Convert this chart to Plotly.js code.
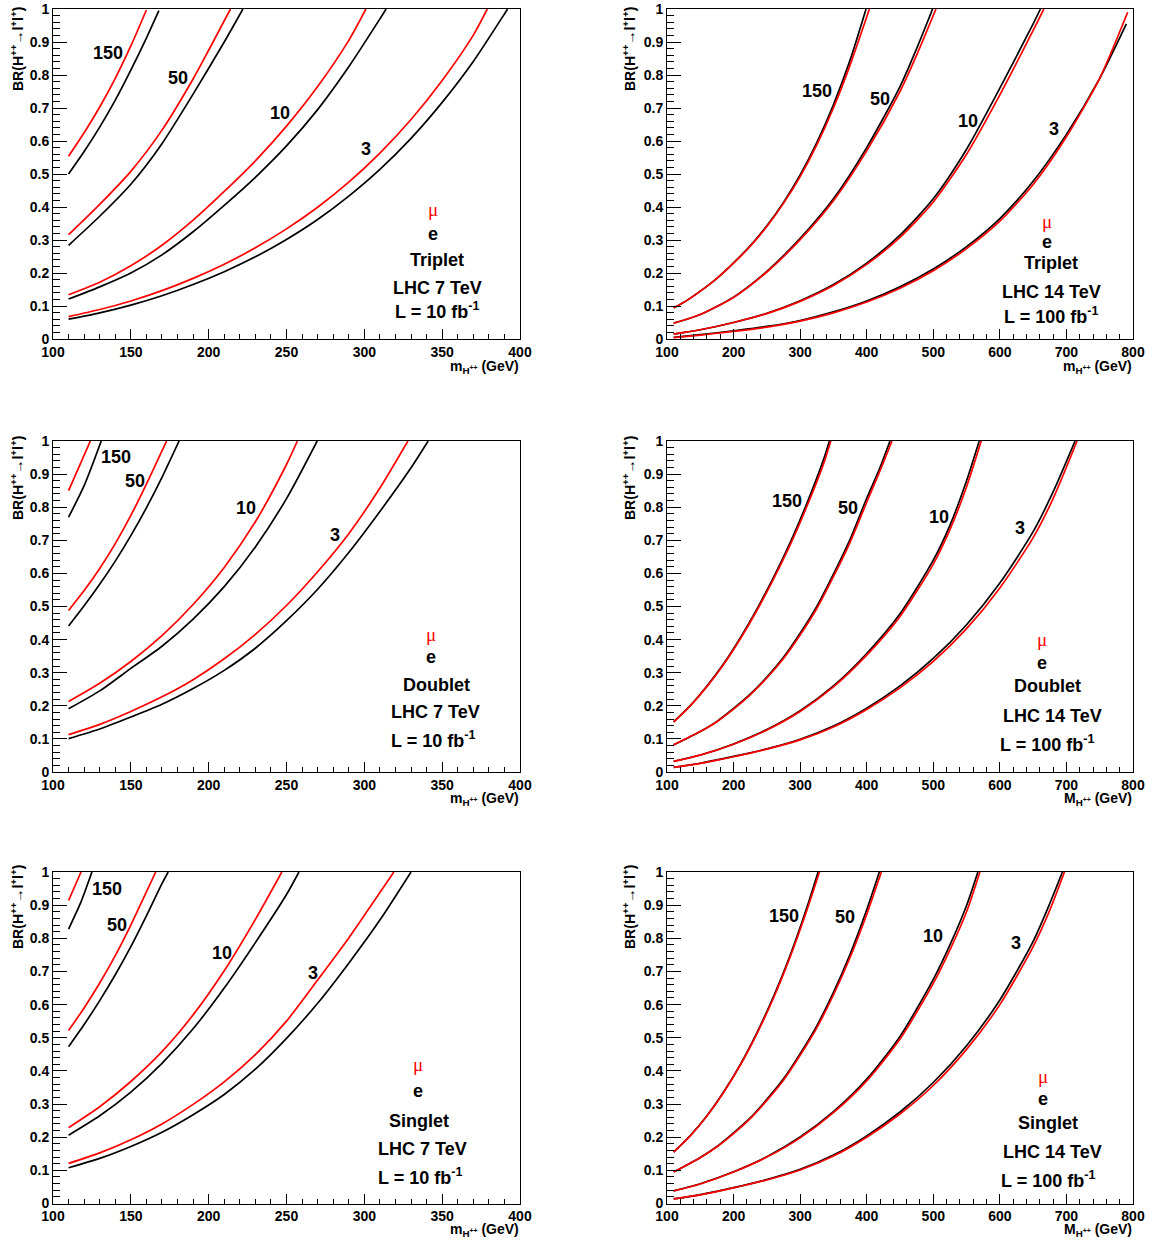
<!DOCTYPE html>
<html><head><meta charset="utf-8">
<script src="https://cdn.plot.ly/plotly-3.0.1.min.js"></script>
<style>html,body{margin:0;padding:0;background:#fff;}#chart{width:1154px;height:1243px;}</style>
</head><body><div id="chart"></div>
<script>
// ---------------- DATA (m_H++ in GeV, BR) ----------------
// Triplet, LHC 7 TeV, L = 10 fb^-1
const tri7_e150  = [[110,0.50],[120,0.568],[130,0.642],[140,0.724],[150,0.815],[160,0.912],[168,0.995]];
const tri7_mu150 = [[110,0.554],[120,0.625],[130,0.703],[140,0.79],[150,0.888],[160,0.997]];
const tri7_e50   = [[110,0.284],[130,0.372],[150,0.469],[170,0.592],[190,0.742],[210,0.90],[222,1.0]];
const tri7_mu50  = [[110,0.316],[130,0.408],[150,0.508],[170,0.633],[190,0.788],[200,0.875],[214,1.0]];
const tri7_e10   = [[110,0.121],[130,0.158],[150,0.200],[170,0.255],[190,0.325],[210,0.405],[230,0.49],[250,0.585],[270,0.695],[290,0.825],[310,0.97],[314,1.0]];
const tri7_mu10  = [[110,0.134],[130,0.172],[150,0.222],[170,0.284],[190,0.36],[210,0.447],[230,0.54],[250,0.645],[270,0.765],[290,0.905],[301,1.0]];
const tri7_e3    = [[110,0.060],[130,0.079],[150,0.1026],[170,0.131],[190,0.165],[210,0.204],[230,0.249],[250,0.3015],[270,0.362],[290,0.433],[310,0.514],[330,0.608],[350,0.717],[370,0.841],[390,0.985],[392,1.0]];
const tri7_mu3   = [[110,0.068],[130,0.0893],[150,0.1153],[170,0.1466],[190,0.1838],[210,0.2267],[230,0.2764],[250,0.3336],[270,0.3993],[290,0.4752],[310,0.5633],[330,0.665],[350,0.7835],[370,0.921],[379,1.0]];

// Triplet, LHC 14 TeV, L = 100 fb^-1
const tri14_e150  = [[110,0.094],[130,0.117],[150,0.145],[175,0.184],[200,0.231],[225,0.282],[250,0.343],[275,0.414],[300,0.497],[325,0.595],[350,0.710],[375,0.845],[399,1.0]];
const tri14_mu150 = [[110,0.094],[130,0.117],[150,0.145],[175,0.184],[200,0.23],[225,0.281],[250,0.341],[275,0.411],[300,0.492],[325,0.588],[350,0.70],[375,0.83],[404,1.0]];
const tri14_e50   = [[110,0.048],[130,0.060],[150,0.074],[200,0.127],[250,0.205],[300,0.305],[350,0.425],[400,0.58],[450,0.765],[475,0.88],[499,1.0]];
const tri14_mu50  = [[110,0.048],[130,0.060],[150,0.074],[200,0.126],[250,0.203],[300,0.301],[350,0.419],[400,0.57],[450,0.75],[475,0.86],[504,1.0]];
const tri14_e10   = [[110,0.015],[150,0.028],[200,0.05],[250,0.078],[300,0.116],[350,0.165],[400,0.23],[450,0.315],[500,0.425],[550,0.575],[600,0.76],[650,0.955],[661,1.0]];
const tri14_mu10  = [[110,0.015],[150,0.028],[200,0.05],[250,0.077],[300,0.114],[350,0.162],[400,0.226],[450,0.308],[500,0.415],[550,0.56],[600,0.74],[650,0.935],[666,1.0]];
const tri14_e3    = [[110,0.005],[150,0.013],[200,0.025],[250,0.038],[300,0.056],[350,0.082],[400,0.115],[450,0.158],[500,0.212],[550,0.28],[600,0.365],[650,0.478],[700,0.62],[750,0.79],[790,0.955]];
const tri14_mu3   = [[110,0.004],[150,0.012],[200,0.023],[250,0.036],[300,0.054],[350,0.079],[400,0.112],[450,0.154],[500,0.207],[550,0.274],[600,0.357],[650,0.468],[700,0.613],[750,0.79],[792,0.99]];

// Doublet, LHC 7 TeV, L = 10 fb^-1
const dbl7_e150  = [[110,0.77],[120,0.865],[131,1.0]];
const dbl7_mu150 = [[110,0.85],[117,0.925],[124,1.0]];
const dbl7_e50   = [[110,0.441],[120,0.502],[130,0.567],[140,0.637],[150,0.714],[160,0.798],[170,0.89],[181,1.0]];
const dbl7_mu50  = [[110,0.488],[120,0.548],[130,0.615],[140,0.69],[150,0.775],[160,0.87],[170,0.97],[173,1.0]];
const dbl7_e10   = [[110,0.191],[130,0.245],[150,0.313],[170,0.38],[190,0.462],[210,0.56],[230,0.68],[250,0.826],[269.7,1.0]];
const dbl7_mu10  = [[110,0.213],[130,0.268],[150,0.334],[170,0.412],[190,0.506],[210,0.618],[230,0.756],[250,0.929],[257,1.0]];
const dbl7_e3    = [[110,0.101],[130,0.130],[150,0.166],[170,0.2045],[190,0.252],[210,0.307],[230,0.374],[250,0.457],[270,0.552],[290,0.663],[310,0.787],[330,0.919],[341,1.0]];
const dbl7_mu3   = [[110,0.113],[130,0.144],[150,0.183],[170,0.227],[190,0.279],[210,0.342],[230,0.416],[250,0.503],[270,0.605],[290,0.72],[310,0.858],[328,1.0]];

// Doublet, LHC 14 TeV, L = 100 fb^-1
const dbl14_e150  = [[110,0.152],[135,0.201],[160,0.26],[185,0.327],[210,0.405],[235,0.492],[260,0.588],[285,0.693],[310,0.811],[335,0.943],[344,1.0]];
const dbl14_mu150 = [[110,0.151],[135,0.20],[160,0.258],[185,0.325],[210,0.402],[235,0.488],[260,0.583],[285,0.686],[310,0.802],[335,0.93],[346,1.0]];
const dbl14_e50   = [[110,0.082],[150,0.1225],[175,0.153],[200,0.192],[225,0.235],[250,0.2865],[275,0.3465],[300,0.419],[325,0.50],[350,0.5975],[375,0.703],[400,0.827],[420,0.92],[435,1.0]];
const dbl14_mu50  = [[110,0.082],[150,0.122],[175,0.152],[200,0.19],[225,0.233],[250,0.284],[275,0.343],[300,0.414],[325,0.494],[350,0.59],[375,0.694],[400,0.815],[420,0.91],[438,1.0]];
const dbl14_e10   = [[110,0.032],[150,0.0514],[200,0.0848],[250,0.128],[300,0.185],[350,0.26],[400,0.358],[450,0.478],[500,0.64],[525,0.745],[550,0.88],[569,1.0]];
const dbl14_mu10  = [[110,0.032],[150,0.051],[200,0.084],[250,0.127],[300,0.183],[350,0.257],[400,0.353],[450,0.47],[500,0.628],[525,0.732],[550,0.862],[572,1.0]];
const dbl14_e3    = [[110,0.014],[150,0.0265],[200,0.047],[250,0.070],[300,0.099],[350,0.139],[400,0.193],[450,0.26],[500,0.343],[550,0.445],[600,0.571],[650,0.726],[680,0.846],[713,1.0]];
const dbl14_mu3   = [[110,0.014],[150,0.026],[200,0.046],[250,0.069],[300,0.097],[350,0.136],[400,0.189],[450,0.254],[500,0.334],[550,0.433],[600,0.556],[650,0.708],[680,0.826],[716,1.0]];

// Singlet, LHC 7 TeV, L = 10 fb^-1
const sgl7_e150  = [[110,0.828],[118,0.91],[125,1.0]];
const sgl7_mu150 = [[110,0.914],[118,1.0]];
const sgl7_e50   = [[110,0.473],[120,0.54],[130,0.612],[140,0.69],[150,0.775],[160,0.868],[170,0.965],[174,1.0]];
const sgl7_mu50  = [[110,0.522],[120,0.59],[130,0.665],[140,0.748],[150,0.84],[160,0.94],[166,1.0]];
const sgl7_e10   = [[110,0.206],[130,0.2645],[150,0.336],[170,0.423],[190,0.527],[210,0.650],[230,0.787],[250,0.932],[258,1.0]];
const sgl7_mu10  = [[110,0.229],[130,0.292],[150,0.368],[170,0.458],[190,0.569],[210,0.702],[230,0.857],[247,1.0]];
const sgl7_e3    = [[110,0.108],[130,0.136],[150,0.172],[170,0.215],[190,0.268],[210,0.329],[230,0.405],[250,0.498],[270,0.604],[290,0.725],[310,0.855],[330,1.0]];
const sgl7_mu3   = [[110,0.121],[130,0.1526],[150,0.1923],[170,0.240],[190,0.299],[210,0.367],[230,0.449],[250,0.550],[270,0.674],[290,0.801],[310,0.938],[319,1.0]];

// Singlet, LHC 14 TeV, L = 100 fb^-1
const sgl14_e150  = [[110,0.155],[135,0.205],[160,0.265],[185,0.3365],[210,0.419],[235,0.515],[260,0.624],[285,0.749],[310,0.892],[327,1.0]];
const sgl14_mu150 = [[110,0.155],[135,0.204],[160,0.264],[185,0.335],[210,0.417],[235,0.512],[260,0.62],[285,0.744],[310,0.884],[329,1.0]];
const sgl14_e50   = [[110,0.095],[150,0.139],[175,0.172],[200,0.213],[225,0.258],[250,0.314],[275,0.376],[300,0.452],[325,0.536],[350,0.637],[375,0.752],[400,0.886],[419,1.0]];
const sgl14_mu50  = [[110,0.095],[150,0.138],[175,0.171],[200,0.211],[225,0.256],[250,0.311],[275,0.372],[300,0.447],[325,0.53],[350,0.629],[375,0.742],[400,0.872],[422,1.0]];
const sgl14_e10   = [[110,0.038],[150,0.0595],[200,0.0957],[250,0.141],[300,0.2005],[350,0.277],[400,0.375],[450,0.504],[500,0.676],[525,0.78],[550,0.899],[567,1.0]];
const sgl14_mu10  = [[110,0.038],[150,0.059],[200,0.095],[250,0.14],[300,0.198],[350,0.274],[400,0.37],[450,0.496],[500,0.664],[525,0.765],[550,0.88],[570,1.0]];
const sgl14_e3    = [[110,0.014],[150,0.027],[200,0.048],[250,0.0724],[300,0.103],[350,0.146],[400,0.204],[450,0.276],[500,0.365],[550,0.476],[600,0.614],[650,0.791],[675,0.905],[694,1.0]];
const sgl14_mu3   = [[110,0.014],[150,0.026],[200,0.047],[250,0.071],[300,0.101],[350,0.143],[400,0.20],[450,0.27],[500,0.356],[550,0.465],[600,0.60],[650,0.775],[675,0.885],[697,1.0]];

// Labels
const levelLabels = ['150','50','10','3'];
const models   = ['Triplet','Triplet','Doublet','Doublet','Singlet','Singlet'];
const energies = ['LHC 7 TeV','LHC 14 TeV','LHC 7 TeV','LHC 14 TeV','LHC 7 TeV','LHC 14 TeV'];
const lumis    = ['L = 10 fb<sup>-1</sup>','L = 100 fb<sup>-1</sup>','L = 10 fb<sup>-1</sup>','L = 100 fb<sup>-1</sup>','L = 10 fb<sup>-1</sup>','L = 100 fb<sup>-1</sup>'];
const massSym  = ['m','m','m','M','m','M'];
const xMax     = [400,800,400,800,400,800];
const xDtick   = [50,100,50,100,50,100];
const xMinor   = [10,20,10,20,10,20];

const curvesByPanel = [
  [[tri7_e150,tri7_mu150],[tri7_e50,tri7_mu50],[tri7_e10,tri7_mu10],[tri7_e3,tri7_mu3]],
  [[tri14_e150,tri14_mu150],[tri14_e50,tri14_mu50],[tri14_e10,tri14_mu10],[tri14_e3,tri14_mu3]],
  [[dbl7_e150,dbl7_mu150],[dbl7_e50,dbl7_mu50],[dbl7_e10,dbl7_mu10],[dbl7_e3,dbl7_mu3]],
  [[dbl14_e150,dbl14_mu150],[dbl14_e50,dbl14_mu50],[dbl14_e10,dbl14_mu10],[dbl14_e3,dbl14_mu3]],
  [[sgl7_e150,sgl7_mu150],[sgl7_e50,sgl7_mu50],[sgl7_e10,sgl7_mu10],[sgl7_e3,sgl7_mu3]],
  [[sgl14_e150,sgl14_mu150],[sgl14_e50,sgl14_mu50],[sgl14_e10,sgl14_mu10],[sgl14_e3,sgl14_mu3]]
];

// ---------------- LAYOUT (pixel geometry) ----------------
const W = 1154, H = 1243;
const FONT = 'Liberation Sans, Arial, Helvetica, sans-serif';
const colX = [[53,520],[667,1133]];
const rowY = [[9,339],[441,772],[872,1203.5]];
const ytitleX = [17,629];
const ytitleTop = [5,434,863];
const xtitleY = [367,799,1230];

const levelPos = [
  [[108,53],[178,78],[280,113],[366,149]],
  [[817,91],[880,99],[968,121],[1054,129]],
  [[116,457],[135,481],[246,508],[335,535]],
  [[787,501],[848,508],[939,517],[1020,528]],
  [[107,889],[117,925],[222,953],[313,973]],
  [[784,916],[845,917],[933,936],[1016,943]]
];
const blockPos = [
  [[433,209],[433,234],[437,260],[437,288],[437,311]],
  [[1047,221],[1047,242],[1051,263],[1051,292],[1051,316]],
  [[431,634],[431,657],[436,685],[435,712],[433,739]],
  [[1042,639],[1042,663],[1047,686],[1052,716],[1047,743]],
  [[418,1064],[418,1091],[419,1121],[422,1149],[420,1176]],
  [[1043,1076],[1043,1099],[1048,1123],[1052,1152],[1048,1179]]
];

const px = x => x / W;
const py = y => 1 - y / H;

const traces = [];
const layout = {
  width: W, height: H,
  margin: {l:0, r:0, t:0, b:0},
  paper_bgcolor: '#fff', plot_bgcolor: '#fff',
  showlegend: false,
  annotations: []
};

const boldFont = (size, color) => ({family: FONT, size: size, color: color || '#000', weight: 'bold'});

for (let k = 0; k < 6; k++) {
  const col = k % 2, row = Math.floor(k / 2);
  const sfx = k === 0 ? '' : String(k + 1);
  layout['xaxis' + sfx] = {
    domain: [px(colX[col][0]), px(colX[col][1])],
    anchor: 'y' + sfx,
    range: [100, xMax[k]],
    tick0: 100, dtick: xDtick[k],
    ticks: 'inside', ticklen: 10, tickwidth: 1, tickcolor: '#000',
    minor: {dtick: xMinor[k], ticks: 'inside', ticklen: 5, tickwidth: 1, tickcolor: '#000', showgrid: false},
    showline: true, linecolor: '#000', linewidth: 1, mirror: true,
    showgrid: false, zeroline: false,
    tickfont: boldFont(14),
    fixedrange: true
  };
  layout['yaxis' + sfx] = {
    domain: [py(rowY[row][1]), py(rowY[row][0])],
    anchor: 'x' + sfx,
    range: [0, 1],
    tick0: 0, dtick: 0.1,
    ticks: 'inside', ticklen: 14, tickwidth: 1, tickcolor: '#000',
    minor: {dtick: 0.02, ticks: 'inside', ticklen: 7, tickwidth: 1, tickcolor: '#000', showgrid: false},
    showline: true, linecolor: '#000', linewidth: 1, mirror: true,
    showgrid: false, zeroline: false,
    tickfont: boldFont(14),
    fixedrange: true
  };

  curvesByPanel[k].forEach(pair => {
    const [e, mu] = pair;
    traces.push({type:'scatter', mode:'lines', xaxis:'x'+sfx, yaxis:'y'+sfx,
      x: e.map(p => p[0]), y: e.map(p => p[1]), hoverinfo:'skip',
      line: {color:'#000', width:1.7, shape:'spline', smoothing:0.7}});
    traces.push({type:'scatter', mode:'lines', xaxis:'x'+sfx, yaxis:'y'+sfx,
      x: mu.map(p => p[0]), y: mu.map(p => p[1]), hoverinfo:'skip',
      line: {color:'#ff0000', width:1.7, shape:'spline', smoothing:0.7}});
  });

  levelLabels.forEach((t, i) => {
    layout.annotations.push({text: t, xref:'paper', yref:'paper',
      x: px(levelPos[k][i][0]), y: py(levelPos[k][i][1]),
      xanchor:'center', yanchor:'middle', showarrow:false, font: boldFont(18)});
  });

  const bp = blockPos[k];
  const blockTexts = ['\u03bc', 'e', models[k], energies[k], lumis[k]];
  blockTexts.forEach((t, i) => {
    const f = i === 0 ? {family:'Liberation Serif, DejaVu Serif, serif', size:19, color:'#ff0000'} : boldFont(18);
    layout.annotations.push({text: t, xref:'paper', yref:'paper',
      x: px(bp[i][0]), y: py(bp[i][1]),
      xanchor:'center', yanchor:'middle', showarrow:false, font: f});
  });

  layout.annotations.push({text:'BR(H<sup>++</sup>\u2192l<sup>+</sup>l<sup>+</sup>)', xref:'paper', yref:'paper',
    x: px(ytitleX[col]), y: py(ytitleTop[row]), xanchor:'center', yanchor:'top',
    textangle:-90, showarrow:false, font: boldFont(14)});
  layout.annotations.push({text: massSym[k] + '<sub>H<sup>++</sup></sub> (GeV)', xref:'paper', yref:'paper',
    x: px(colX[col][1] + 1), y: py(xtitleY[row]), xanchor:'right', yanchor:'middle',
    showarrow:false, font: boldFont(14)});
}

Plotly.newPlot('chart', traces, layout, {staticPlot:true, displayModeBar:false});
</script>
</body></html>
